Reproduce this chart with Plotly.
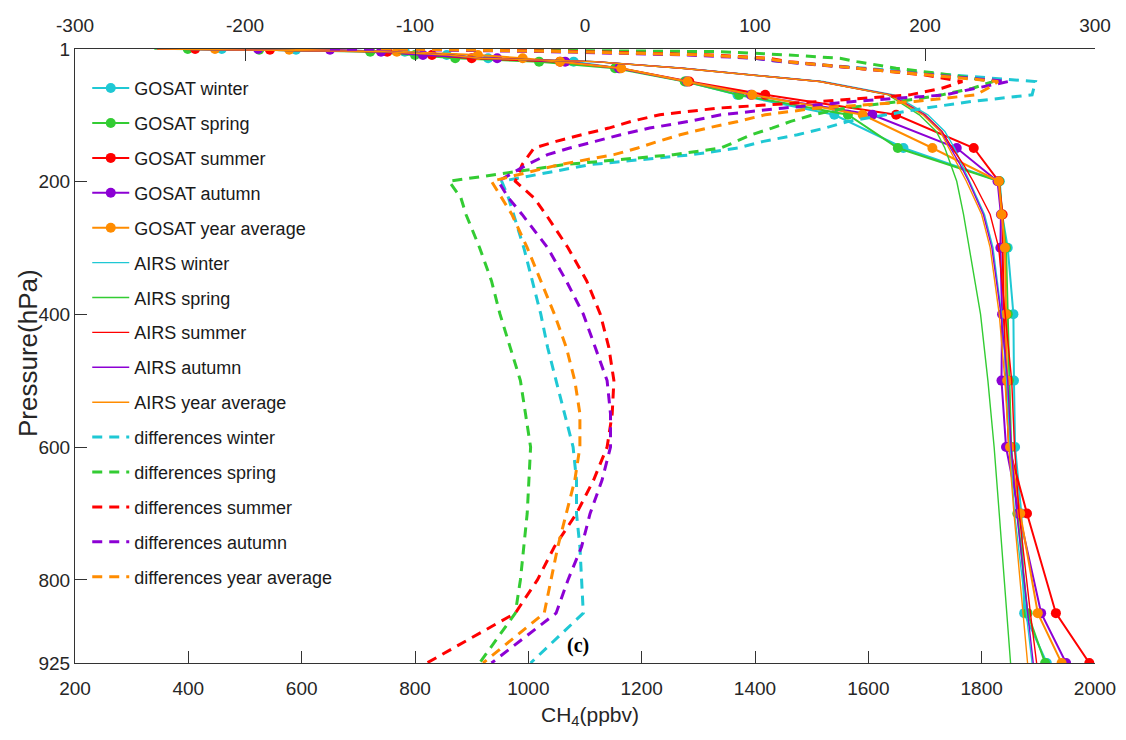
import plotly.graph_objects as go

# ---------------- data ----------------
gosat_levels = [1, 2, 5, 10, 15, 20, 30, 50, 70, 100, 150, 200, 250, 300, 400, 500, 600, 700, 850, 925]
gosat_winter = [459, 590, 782, 856, 929, 1080, 1160, 1278, 1369, 1540, 1662, 1832, 1836, 1846, 1856, 1857, 1859, 1870, 1875, 1915]
gosat_spring = [399, 525, 721, 800, 871, 1019, 1153, 1276, 1372, 1564, 1652, 1831, 1836, 1843, 1846, 1848, 1852, 1863, 1881, 1912]
gosat_summer = [412, 544, 751, 830, 900, 1056, 1162, 1284, 1418, 1649, 1786, 1830, 1837, 1837, 1839, 1843, 1848, 1880, 1931, 1990]
gosat_autumn = [523, 650, 740, 814, 945, 1065, 1160, 1280, 1393, 1607, 1756, 1828, 1834, 1833, 1836, 1835, 1843, 1866, 1905, 1949]
gosat_year = [447, 578, 768, 911, 990, 1056, 1164, 1281, 1395, 1590, 1713, 1830, 1835, 1841, 1843, 1845, 1850, 1868, 1899, 1941]

airs_levels = [1, 2, 5, 10, 15, 20, 30, 50, 70, 100, 125, 150, 175, 200, 250, 300, 400, 500, 600, 700, 850, 925]
airs_winter = [350, 480, 750, 860, 920, 1120, 1275, 1520, 1645, 1705, 1735, 1752, 1765, 1779, 1805, 1820, 1835, 1844, 1850, 1858, 1878, 1889]
airs_spring = [340, 470, 740, 855, 915, 1115, 1270, 1515, 1635, 1690, 1720, 1735, 1746, 1756, 1768, 1778, 1798, 1811, 1822, 1831, 1845, 1851]
airs_summer = [345, 475, 745, 860, 918, 1118, 1272, 1515, 1640, 1700, 1730, 1748, 1768, 1785, 1815, 1830, 1842, 1853, 1858, 1866, 1886, 1897]
airs_autumn = [345, 475, 745, 858, 917, 1117, 1271, 1514, 1638, 1698, 1728, 1745, 1762, 1777, 1803, 1818, 1834, 1846, 1852, 1862, 1882, 1891]
airs_year = [345, 475, 745, 858, 916, 1117, 1270, 1513, 1637, 1696, 1727, 1742, 1758, 1773, 1800, 1815, 1831, 1841, 1848, 1857, 1873, 1881]

diff_levels = [1, 2, 5, 10, 15, 20, 30, 40, 50, 60, 70, 80, 90, 100, 110, 120, 130, 140, 150, 160, 175,
               200, 225, 250, 300, 350, 400, 450, 500, 550, 600, 650, 700, 750, 800, 850, 925]
diff_winter = [-100, -60, 10, 70, 100, 115, 165, 215, 265, 264, 263, 227, 200, 177, 155, 141, 125, 105, 90, 63, 3,
               -49, -45, -42, -36, -31, -26, -22, -17, -12, -7, -5, -5, -3, -2, -1, -32]
diff_spring = [-130, -80, 80, 120, 150, 160, 183, 215, 240, 228, 210, 185, 153, 134, 121, 110, 98, 89, 80, 52, -12,
               -80, -73, -70, -62, -55, -50, -44, -38, -35, -32, -33, -34, -36, -38, -41, -62]
diff_summer = [-110, -70, 0, 75, 108, 120, 160, 200, 222, 210, 191, 138, 78, 44, 27, 14, -2, -17, -30, -33, -37,
               -41, -30, -23, -10, 1, 9, 14, 17, 16, 13, 5, -5, -18, -28, -41, -93]
diff_autumn = [-150, -100, -20, 60, 100, 115, 160, 204, 249, 230, 212, 158, 116, 80, 61, 38, 21, 6, -9, -22, -34,
               -51, -45, -37, -22, -11, -1, 6, 13, 15, 15, 10, 3, -2, -10, -17, -55]
diff_year = [-120, -80, -10, 70, 105, 118, 160, 204, 243, 237, 230, 194, 136, 106, 90, 72, 56, 43, 31, 17, -15,
             -55, -49, -43, -34, -26, -18, -11, -6, -3, -3, -6, -11, -16, -20, -24, -60]

season_names = ["winter", "spring", "summer", "autumn", "year average"]
colors = ["#1fc8d4", "#33cc33", "#ff0000", "#8c00d4", "#ff8c00"]

y_ticks = [1, 200, 400, 600, 800, 925]
x_ticks = [200, 400, 600, 800, 1000, 1200, 1400, 1600, 1800, 2000]
x2_ticks = [-300, -200, -100, 0, 100, 200, 300]

# ---------------- figure ----------------
fig = go.Figure()

gosat = [gosat_winter, gosat_spring, gosat_summer, gosat_autumn, gosat_year]
airs = [airs_winter, airs_spring, airs_summer, airs_autumn, airs_year]
diffs = [diff_winter, diff_spring, diff_summer, diff_autumn, diff_year]

for name, col, vals in zip(season_names, colors, gosat):
    fig.add_trace(go.Scatter(x=vals, y=gosat_levels, mode="lines+markers",
                             name=f"GOSAT {name}", legendgroup=f"GOSAT {name}",
                             line=dict(color=col, width=2),
                             marker=dict(color=col, size=10, symbol="circle")))
for name, col, vals in zip(season_names, colors, airs):
    fig.add_trace(go.Scatter(x=vals, y=airs_levels, mode="lines",
                             name=f"AIRS {name}", legendgroup=f"AIRS {name}",
                             line=dict(color=col, width=1.4)))
for name, col, vals in zip(season_names, colors, diffs):
    fig.add_trace(go.Scatter(x=vals, y=diff_levels, mode="lines", xaxis="x2",
                             name=f"differences {name}", legendgroup=f"differences {name}",
                             line=dict(color=col, width=3, dash="10px,7px")))

tick_font = dict(family="Liberation Sans, Arial", size=19, color="#262626")
axis_common = dict(showline=True, linecolor="#333333", linewidth=1, ticks="inside", ticklen=12,
                   tickcolor="#333333", showgrid=False, zeroline=False, tickfont=tick_font,
                   automargin=False)

fig.update_layout(
    width=1126, height=740,
    margin=dict(l=67, r=39, t=41, b=85, autoexpand=False),
    paper_bgcolor="white", plot_bgcolor="white",
    showlegend=True,
    legend=dict(x=0.012, y=0.966, xanchor="left", yanchor="top", bgcolor="rgba(0,0,0,0)",
                font=dict(family="Liberation Sans, Arial", size=18, color="#1a1a1a"),
                tracegroupgap=8.5, itemwidth=37),
    xaxis=dict(range=[200, 2000], tickvals=x_ticks, ticktext=[str(v) for v in x_ticks],
               ticklabelstandoff=8, **axis_common),
    xaxis2=dict(range=[-300, 300], tickvals=x2_ticks, ticktext=[str(v) for v in x2_ticks],
                overlaying="x", side="top", anchor="y", ticklabelstandoff=8, **axis_common),
    yaxis=dict(range=[925, 1], tickvals=y_ticks, ticktext=[str(v) for v in y_ticks], **axis_common),
    annotations=[
        dict(text="Pressure(hPa)", textangle=-90, xref="paper", yref="paper", x=-0.046, y=0.505,
             xanchor="center", yanchor="middle",
             showarrow=False, font=dict(family="Liberation Sans, Arial", size=26, color="#262626")),
        dict(text="CH<sub>4</sub>(ppbv)", xref="paper", yref="paper", x=0.505, y=-0.087,
             xanchor="center", yanchor="middle",
             showarrow=False, font=dict(family="Liberation Sans, Arial", size=21, color="#262626")),
        dict(text="<b>(c)</b>", xref="paper", yref="paper", x=0.493, y=0.029,
             xanchor="center", yanchor="middle",
             showarrow=False, font=dict(family="Liberation Serif, Times New Roman", size=20, color="#000000")),
    ],
)

fig.write_html("out.html")
